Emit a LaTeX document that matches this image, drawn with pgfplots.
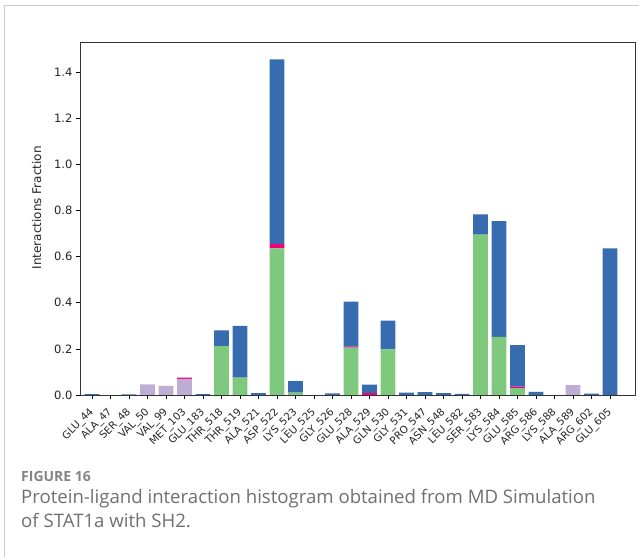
\documentclass[border=0pt]{standalone}
\usepackage{fontspec}
\setmainfont{DejaVu Sans}
\newfontfamily\capfont{Open Sans}
\usepackage{pgfplots}
\usepackage{pgfplotstable}
\pgfplotsset{compat=1.18}
\definecolor{hb}{HTML}{7FC97F}
\definecolor{hy}{HTML}{BEAED4}
\definecolor{io}{HTML}{F0027F}
\definecolor{wb}{HTML}{386CB0}
\definecolor{capgray}{HTML}{707070}
\pgfplotstableread{
x g p k b
0 0 0 0 0.004
1 0 0 0 0
2 0 0 0 0.003
3 0 0.046 0 0
4 0 0.040 0 0
5 0 0.070 0.005 0
6 0 0 0 0.004
7 0.212 0 0 0.068
8 0.075 0 0 0.225
9 0 0 0 0.008
10 0.635 0 0.020 0.800
11 0.010 0 0 0.050
12 0 0 0 0
13 0 0 0 0.007
14 0.205 0 0.005 0.195
15 0 0 0.008 0.037
16 0.198 0 0 0.124
17 0 0 0 0.010
18 0 0 0 0.012
19 0 0 0 0.008
20 0 0 0 0.005
21 0.695 0 0 0.088
22 0.252 0 0 0.502
23 0.030 0 0.006 0.180
24 0 0 0 0.014
25 0 0 0 0
26 0 0.043 0 0
27 0 0 0 0.006
28 0 0 0 0.636
}\datatable
\begin{document}
\begin{tikzpicture}[x=1pt,y=1pt]
\useasboundingbox (0,0) rectangle (639,557);
\fill[white] (0,0) rectangle (639,557);
\draw[black!20, line width=1pt] (4.5,0) -- (4.5,551) -- (639,551);
\begin{axis}[
  at={(80pt,162pt)}, anchor=south west,
  width=555pt, height=353pt, scale only axis,
  xmin=-0.65, xmax=29.35, ymin=0, ymax=1.53,
  ybar stacked, bar width=0.8,
  axis on top,
  tick pos=left,
  axis line style={black!80, line width=0.8pt},
  tick style={black, line width=0.6pt},
  tick align=outside, major tick length=4pt,
  xtick={0,...,28},
  xticklabels={GLU\_44,ALA\_47,SER\_48,VAL\_50,VAL\_99,MET\_103,GLU\_183,THR\_518,THR\_519,ALA\_521,ASP\_522,LYS\_523,LEU\_525,GLY\_526,GLU\_528,ALA\_529,GLN\_530,GLY\_531,PRO\_547,ASN\_548,LEU\_582,SER\_583,LYS\_584,GLU\_585,ARG\_586,LYS\_588,ALA\_589,ARG\_602,GLU\_605},
  xticklabel style={rotate=45, anchor=north east, font=\fontsize{10.3}{12}\selectfont, text=black!85, inner sep=1pt, xshift=-7pt, yshift=-2pt},
  ytick={0,0.2,...,1.4},
  yticklabel style={font=\fontsize{11.5}{13}\selectfont, text=black!85},
  /pgf/number format/.cd, fixed, fixed zerofill, precision=1, assume math mode=true,
  /pgfplots/.cd,
  ylabel={Interactions Fraction},
  ylabel style={font=\fontsize{12}{14}\selectfont, text=black!85, at={(axis description cs:-0.078,0.53)}, anchor=center, rotate=0},
  every axis plot/.append style={draw=none},
]
\addplot[fill=hb] table[x=x,y=g]{\datatable};
\addplot[fill=hy] table[x=x,y=p]{\datatable};
\addplot[fill=io] table[x=x,y=k]{\datatable};
\addplot[fill=wb] table[x=x,y=b]{\datatable};
\end{axis}
\node[anchor=base west, inner sep=0, text=capgray!85, font=\capfont\bfseries\fontsize{14}{16}\selectfont] at (21,76) {FIGURE 16};
\node[anchor=base west, inner sep=0, text=capgray, font=\capfont\fontsize{18.6}{22}\selectfont] at (21,54) {Protein-ligand interaction histogram obtained from MD Simulation};
\node[anchor=base west, inner sep=0, text=capgray, font=\capfont\fontsize{18.6}{22}\selectfont] at (21,30) {of STAT1a with SH2.};
\end{tikzpicture}
\end{document}
